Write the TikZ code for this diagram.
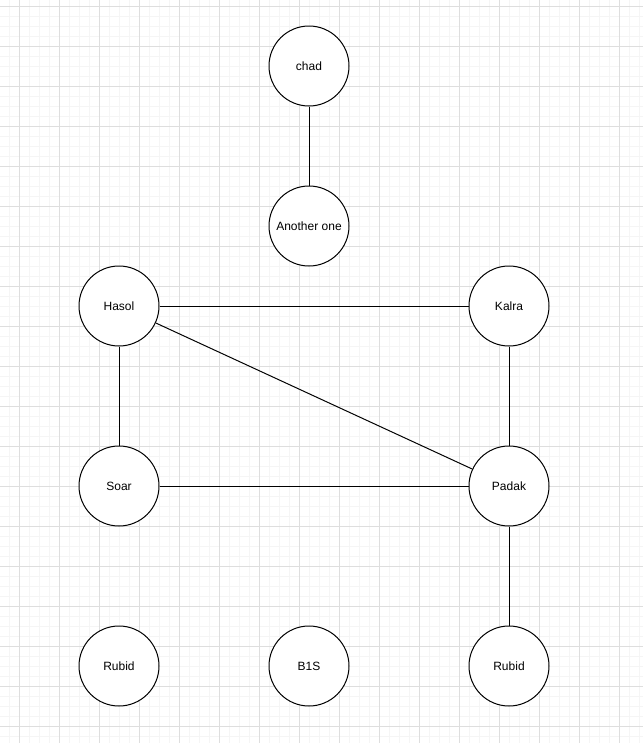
\documentclass[tikz,border=0pt]{standalone}
\usepackage{fontspec}
\setmainfont{Liberation Sans}
\begin{document}
\begin{tikzpicture}[x=0.75pt,y=-0.75pt,
  vtx/.style={circle,draw=black,line width=0.75pt,fill=white,minimum size=60pt,inner sep=0pt,font=\fontsize{9}{11}\selectfont},
  edge/.style={draw=black,line width=0.75pt},
  minorgrid/.style={draw=black!4,line width=0.75pt},
  majorgrid/.style={draw=black!13,line width=0.75pt}]
\useasboundingbox[fill=white] (0,0) rectangle (643,743);
\foreach \x in {9,19,...,643} \draw[minorgrid] (\x,0) -- (\x,743);
\foreach \y in {6,16,...,743} \draw[minorgrid] (0,\y) -- (643,\y);
\foreach \x in {19,59,...,643} \draw[majorgrid] (\x,0) -- (\x,743);
\foreach \y in {6,46,...,743} \draw[majorgrid] (0,\y) -- (643,\y);
\node[vtx] (chad) at (309,66) {chad};
\node[vtx] (another) at (309,226) {Another one};
\node[vtx] (hasol) at (119,306) {Hasol};
\node[vtx] (kalra) at (509,306) {Kalra};
\node[vtx] (soar) at (119,486) {Soar};
\node[vtx] (padak) at (509,486) {Padak};
\node[vtx] (rubid1) at (119,666) {Rubid};
\node[vtx] (b1s) at (309,666) {B1S};
\node[vtx] (rubid2) at (509,666) {Rubid};
\draw[edge] (chad) -- (another);
\draw[edge] (hasol) -- (kalra);
\draw[edge] (hasol) -- (padak);
\draw[edge] (hasol) -- (soar);
\draw[edge] (kalra) -- (padak);
\draw[edge] (soar) -- (padak);
\draw[edge] (padak) -- (rubid2);
\end{tikzpicture}
\end{document}
